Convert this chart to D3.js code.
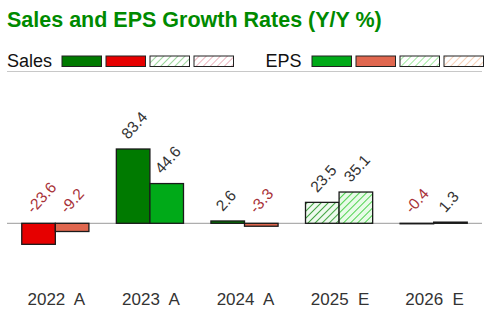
<!DOCTYPE html>
<html>
<head>
<meta charset="utf-8">
<script src="https://cdn.jsdelivr.net/npm/d3@7"></script>
<style>
  body { margin: 0; background: #fff; }
  svg { display: block; font-family: "Liberation Sans", Arial, sans-serif; }
</style>
</head>
<body>
<svg id="chart"></svg>
<script>
// ---- data ----
var years = ["2022  A", "2023  A", "2024  A", "2025  E", "2026  E"];
var salesGrowth = [-23.6, 83.4, 2.6, 23.5, -0.4];
var epsGrowth = [-9.2, 44.6, -3.3, 35.1, 1.3];
var estimated = [false, false, false, true, true];
var legendNames = ["Sales", "EPS"];

var svgWidth = 487, svgHeight = 316;

var svg = d3.select('#chart')
    .attr("width", svgWidth)
    .attr("height", svgHeight);

// colours
var col = {
    salesPos: "#007a00", salesNeg: "#e60000",
    epsPos: "#00aa18", epsNeg: "#e0674f"
};

// hatch patterns for estimates
var defs = svg.append("defs");
function hatch(id, bg, line, op) {
    var p = defs.append("pattern")
        .attr("id", id)
        .attr("patternUnits", "userSpaceOnUse")
        .attr("width", 5).attr("height", 5)
        .attr("patternTransform", "rotate(45)");
    p.append("rect").attr("width", 5).attr("height", 5).attr("fill", bg);
    p.append("line")
        .attr("x1", 0).attr("y1", 0).attr("x2", 0).attr("y2", 5)
        .attr("stroke", line).attr("stroke-width", 1.8).attr("stroke-opacity", op);
}
hatch("salesEst", "#eefaee", "#2f9a2f", 1);
hatch("salesEstNeg", "#fdf0f2", "#e07888", 1);
hatch("epsEst", "#e8fbe8", "#3ccf3c", 1);
hatch("epsEstNeg", "#fff5ee", "#f2a878", 1);
hatch("salesEstL", "#ffffff", "#66c066", 0.7);
hatch("salesEstNegL", "#ffffff", "#e08898", 0.7);
hatch("epsEstL", "#ffffff", "#66dd66", 0.7);
hatch("epsEstNegL", "#ffffff", "#f4b890", 0.7);

// title
svg.append("text")
    .attr("x", 7).attr("y", 26.5)
    .attr("fill", "#008a00")
    .attr("font-size", 21.5)
    .attr("font-weight", "bold")
    .text("Sales and EPS Growth Rates (Y/Y %)");

// legend
var legendFills = [
    [col.salesPos, col.salesNeg, "url(#salesEstL)", "url(#salesEstNegL)"],
    [col.epsPos, col.epsNeg, "url(#epsEstL)", "url(#epsEstNegL)"]
];
var legendX = [7, 265.5], swatchX = [62, 312];
legendNames.forEach(function(name, k) {
    svg.append("text")
        .attr("x", legendX[k]).attr("y", 67)
        .attr("font-size", 18)
        .attr("fill", "#111")
        .text(name);
    svg.selectAll(".sw" + k)
        .data(legendFills[k])
        .enter().append("rect")
        .attr("x", function(d, i) { return swatchX[k] + i * 44; })
        .attr("y", 56)
        .attr("width", 39.5).attr("height", 10.5)
        .attr("fill", function(d) { return d; })
        .attr("stroke", "#222").attr("stroke-width", 1);
});
svg.append("line")
    .attr("x1", 7).attr("x2", 482)
    .attr("y1", 71.5).attr("y2", 71.5)
    .attr("stroke", "#c8c8c8").attr("stroke-width", 1);

// scales
var x0 = d3.scaleBand()
    .domain(years)
    .range([7, 482])
    .paddingInner(0.29)
    .paddingOuter(0.156);

var x1 = d3.scaleBand()
    .domain(["sales", "eps"])
    .range([0, x0.bandwidth()]);

var y = d3.scaleLinear()
    .domain([0, 83.4])
    .range([223.3, 149]);

// build rows for bars
var bars = [];
years.forEach(function(yr, i) {
    bars.push({ year: yr, key: "sales", value: salesGrowth[i], est: estimated[i] });
    bars.push({ year: yr, key: "eps", value: epsGrowth[i], est: estimated[i] });
});

function fillFor(d) {
    if (d.key === "sales") {
        if (d.est) return d.value < 0 ? "url(#salesEstNeg)" : "url(#salesEst)";
        return d.value < 0 ? col.salesNeg : col.salesPos;
    }
    if (d.est) return d.value < 0 ? "url(#epsEstNeg)" : "url(#epsEst)";
    return d.value < 0 ? col.epsNeg : col.epsPos;
}

// zero line
svg.append("line")
    .attr("x1", 7).attr("x2", 482)
    .attr("y1", y(0)).attr("y2", y(0))
    .attr("stroke", "#9a9a9a").attr("stroke-width", 1);

svg.selectAll("rect.bar")
    .data(bars)
    .enter().append("rect")
    .attr("class", "bar")
    .attr("x", function(d) { return x0(d.year) + x1(d.key); })
    .attr("width", x1.bandwidth())
    .attr("y", function(d) { return Math.min(y(d.value), y(0)); })
    .attr("height", function(d) { return Math.max(Math.abs(y(d.value) - y(0)), 0.5); })
    .attr("fill", fillFor)
    .attr("stroke", "#1a1a1a")
    .attr("stroke-width", 1.3);

// value labels, rotated
svg.selectAll("text.val")
    .data(bars)
    .enter().append("text")
    .attr("class", "val")
    .attr("font-size", 15.5)
    .attr("fill", function(d) { return d.value < 0 ? "#a83238" : "#333"; })
    .attr("transform", function(d) {
        var cx = x0(d.year) + x1(d.key) + x1.bandwidth() / 2;
        var ref = Math.min(y(d.value), y(0));
        return "translate(" + (cx - 5) + "," + (ref - 9) + ") rotate(-48)";
    })
    .text(function(d) { return d.value.toFixed(1); });

// x axis labels
svg.selectAll("text.cat")
    .data(years)
    .enter().append("text")
    .attr("class", "cat")
    .attr("x", function(d) { return x0(d) + x0.bandwidth() / 2 + 1; })
    .attr("y", 304.5)
    .attr("text-anchor", "middle")
    .attr("font-size", 17)
    .attr("fill", "#333")
    .style("white-space", "pre")
    .text(function(d) { return d; });
</script>
</body>
</html>
